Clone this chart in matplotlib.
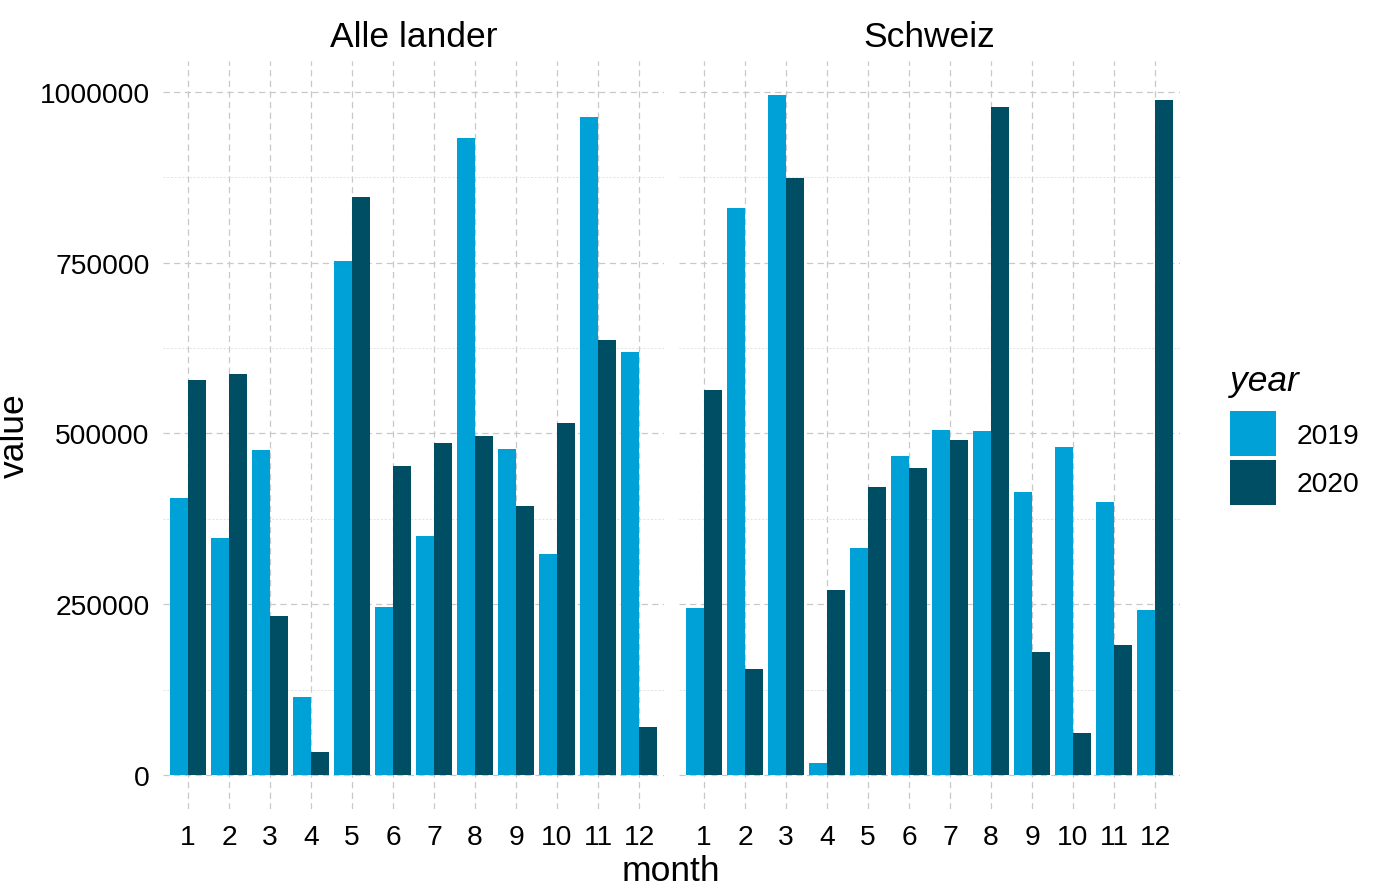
import matplotlib
matplotlib.use("Agg")
import matplotlib.pyplot as plt
from matplotlib.patches import Patch
from matplotlib.ticker import FixedFormatter
import numpy as np

plt.rcParams['font.family'] = ['Liberation Sans', 'DejaVu Sans']

months = list(range(1, 13))
panels = ["Alle lander", "Schweiz"]
years = ["2019", "2020"]
alle_2019 = [405600, 347000, 475800, 114200, 752600, 246000, 349900, 932600, 477300, 323600, 963400, 619300]
alle_2020 = [578300, 587100, 232800, 33700, 846300, 452400, 486100, 496300, 393900, 515400, 636900, 70300]
sch_2019 = [244500, 830200, 995600, 17600, 332400, 467000, 505100, 503700, 414300, 480200, 399700, 242000]
sch_2020 = [563700, 155200, 874100, 270900, 421700, 449500, 490500, 978000, 180100, 61500, 190300, 988300]
y_ticks = [0, 250000, 500000, 750000, 1000000]
y_tick_labels = ["0", "250000", "500000", "750000", "1000000"]
y_minor = [125000, 375000, 625000, 875000]

colors = {"2019": "#00A1D7", "2020": "#004E64"}
data = {"Alle lander": (alle_2019, alle_2020), "Schweiz": (sch_2019, sch_2020)}

W, H = 1379, 895
fig = plt.figure(figsize=(W / 100, H / 100), dpi=100)

def fx(px):
    return px / W

def fy(py):
    return 1 - py / H

ymax_data = max(max(v) for pair in data.values() for v in pair)
ylo, yhi = -0.05 * ymax_data, 1.05 * ymax_data

TICK = 20.3
TITLE = 25.5

lefts = [163.4, 679.4]
pw = 500.2
top, bottom = 62, 810
axes = []
for i, name in enumerate(panels):
    ax = fig.add_axes([fx(lefts[i]), fy(bottom), pw / W, (bottom - top) / H])
    axes.append(ax)
    v19, v20 = data[name]
    x = np.array(months, dtype=float)
    ax.set_axisbelow(True)
    ax.bar(x - 0.225, v19, width=0.45, color=colors["2019"], linewidth=0)
    ax.bar(x + 0.225, v20, width=0.45, color=colors["2020"], linewidth=0)
    ax.set_xlim(0.4, 12.6)
    ax.set_ylim(ylo, yhi)
    ax.set_xticks(months)
    ax.set_xticklabels([str(m) for m in months])
    ax.set_yticks(y_ticks)
    ax.set_yticklabels(y_tick_labels)
    ax.set_yticks(y_minor, minor=True)
    ax.yaxis.set_minor_formatter(FixedFormatter([""] * len(y_minor)))
    ax.grid(True, which='major', axis='both', color='#C8C8C8', linestyle=(0, (5, 3.5)), linewidth=0.9)
    ax.grid(True, which='minor', axis='y', color='#DDDDDD', linestyle=(0, (2.5, 2)), linewidth=0.6)
    for s in ax.spines.values():
        s.set_visible(False)
    ax.tick_params(axis='both', which='both', length=0, labelsize=TICK, colors='black')
    ax.tick_params(axis='x', pad=11)
    ax.tick_params(axis='y', pad=10)
    if i == 1:
        ax.tick_params(axis='y', labelleft=False)
    ax.set_title(name, fontsize=TITLE, pad=10.5)

fig.text(fx(14), fy(436), "value", rotation=90, ha='center', va='center', fontsize=TITLE)
fig.text(fx(671), fy(872), "month", ha='center', va='center', fontsize=TITLE)

handles = [Patch(facecolor=colors[y], edgecolor='none') for y in years]
leg = fig.legend(handles, years, loc='upper left', bbox_to_anchor=(fx(1222), fy(357)),
                 frameon=False, fontsize=TICK, title='year',
                 title_fontproperties={'size': TITLE, 'style': 'italic'},
                 handlelength=1.63, handleheight=2.08, labelspacing=0.12,
                 handletextpad=0.7, borderaxespad=0, borderpad=0.3)
leg._legend_box.align = "left"
leg._legend_box.sep = 10

fig.savefig("out.png", dpi=100)
